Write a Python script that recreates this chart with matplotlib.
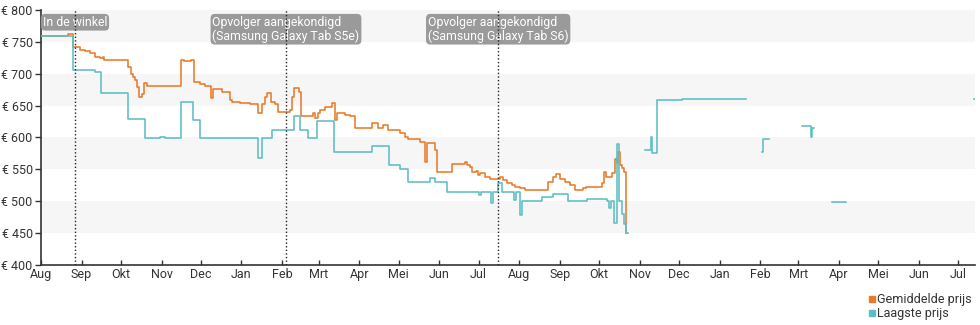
import numpy as np
import matplotlib
matplotlib.use("Agg")
import matplotlib.pyplot as plt
import matplotlib.dates as mdates
from matplotlib.lines import Line2D
from matplotlib.ticker import FuncFormatter, FixedLocator

plt.rcParams['font.family'] = ['Roboto', 'DejaVu Sans']

# Price history of the tablet, days counted from 1 August 2018
START = np.datetime64('2018-08-01')
END_DAY = 713

# Average price (Gemiddelde prijs)
gem_dag = [0, 20.6, 24.4, 29.8, 33.6, 37.4, 41.2, 45.0, 47.3, 48.1, 66.4, 68.7, 70.2, 71.8,
           73.3, 74.8, 77.1, 78.6, 80.9, 106.9, 109.2, 114.5, 116.8, 121.4, 125.2, 129.8,
           131.3, 138.2, 144.3, 145.8, 151.9, 159.5, 165.7, 168.7, 171.0, 172.5, 175.6,
           178.6, 180.9, 190.1, 191.6, 193.1, 197.0, 198.5, 207.6, 209.2, 211.5, 213.0,
           216.8, 222.2, 224.4, 226.0, 232.1, 235.9, 239.7, 252.7, 257.3, 261.1, 264.9,
           274.1, 277.9, 280.2, 289.3, 293.1, 294.7, 300.8, 302.3, 313.8, 323.7, 325.2,
           327.5, 329.0, 332.1, 333.6, 335.1, 338.9, 342.8, 350.4, 352.7, 355.7, 359.6,
           361.9, 365.7, 369.5, 387.0, 390.9, 393.2, 396.2, 400.0, 403.8, 407.7, 413.8,
           416.1, 428.3, 429.8, 431.3, 435.9, 438.2, 439.7, 440.5, 442.0, 443.5, 445.0,
           446.6, 447.4]
gem_prijs = [759, 762, 742, 738, 736, 732, 727, 724, 727, 721, 711, 700, 695, 690,
             679, 664, 668, 685, 680, 722, 720, 722, 687, 684, 681, 662,
             676, 671, 659, 656, 654, 652, 638, 652, 664, 670, 655,
             652, 640, 643, 664, 677, 671, 634, 638, 630, 638, 643,
             648, 654, 627, 638, 636, 633, 615, 623, 615, 620, 612,
             607, 601, 597, 593, 561, 591, 580, 546, 558, 562, 557,
             554, 546, 548, 541, 545, 538, 535, 538, 533, 529, 525,
             522, 521, 518, 530, 538, 542, 535, 530, 525, 518, 521,
             522, 529, 546, 538, 544, 567, 560, 577, 557, 552, 546,
             450, 450]

# Lowest price (Laagste prijs); NaN marks periods without an offer
laag_dag = [0, 24.4, 41.2, 45.8, 66.4, 79.4, 90.8, 94.7, 106.9, 116.0, 121.4, 165.7,
            168.7, 176.3, 193.1, 197.7, 203.8, 210.7, 223.7, 252.7, 265.6, 274.1, 280.2,
            297.0, 300.8, 309.9, 334.4, 335.9, 343.5, 345.1, 348.9, 351.9, 361.1, 362.6,
            365.7, 367.2, 382.5, 390.9, 402.3, 416.8, 432.1, 433.6, 435.1, 437.4, 439.7,
            441.3, 443.5, 445.0, 446.6, 447.4, 448.0,
            461.1, 465.6, 466.4, 470.2, 489.3, 537.4, 538.0,
            550.4, 551.1, 555.0, 555.5,
            580.9, 587.8, 588.5, 589.3, 590.0,
            603.8, 613.7, 614.2,
            712.4, 713.0]
laag_prijs = [759, 706, 702, 670, 629, 599, 601, 599, 656, 628, 599, 568,
              599, 611, 634, 611, 599, 626, 577, 586, 557, 551, 530,
              536, 530, 515, 510, 515, 498, 515, 528, 515, 502, 515,
              478, 500, 507, 512, 500, 504, 500, 489, 500, 466, 590,
              500, 480, 465, 450, 450, np.nan,
              580, 600, 576, 659, 660, 660, np.nan,
              577, 598, 598, np.nan,
              618, 601, 615, 615, np.nan,
              499, 499, np.nan,
              660, 660]

gebeurtenis_datum = ['2018-08-27', '2019-02-04', '2019-07-16']
gebeurtenis_tekst = ['In de winkel',
                     'Opvolger aangekondigd\n(Samsung Galaxy Tab S5e)',
                     'Opvolger aangekondigd\n(Samsung Galaxy Tab S6)']

maanden = ['Jan', 'Feb', 'Mrt', 'Apr', 'Mei', 'Jun', 'Jul', 'Aug', 'Sep', 'Okt', 'Nov', 'Dec']
prijs_ticks = [400, 450, 500, 550, 600, 650, 700, 750, 800]

ORANJE = '#ea7a2b'
BLAUW = '#5dbec5'
TEKST = '#333333'

base = mdates.date2num(START)

fig = plt.figure(figsize=(9.8, 3.25), dpi=100)
ax = fig.add_axes([41 / 980, 60 / 325, 934 / 980, 255 / 325])

# alternating light bands
for lo in [450, 550, 650, 750]:
    ax.axhspan(lo, lo + 50, color='#f6f6f6', lw=0, zorder=0)

ax.plot(base + np.array(gem_dag), gem_prijs, color=ORANJE, lw=1.15,
        drawstyle='steps-post', zorder=3)
ax.plot(base + np.array(laag_dag), np.array(laag_prijs, dtype=float), color=BLAUW, lw=1.15,
        drawstyle='steps-post', zorder=4)

for d, t in zip(gebeurtenis_datum, gebeurtenis_tekst):
    x = mdates.date2num(np.datetime64(d))
    ax.axvline(x, color='#222222', lw=1.0, linestyle=(0, (1, 1.6)), zorder=6)
    ax.text(x, 791, t, ha='center', va='top', multialignment='left', color='white',
            fontsize=8.8, zorder=5, linespacing=1.05,
            bbox=dict(boxstyle='round,pad=0.15,rounding_size=0.35', fc='#9a9a9a', ec='none'))

ax.set_xlim(base, base + END_DAY)
ax.set_ylim(400, 800)

ax.xaxis.set_major_locator(mdates.MonthLocator())
ax.xaxis.set_major_formatter(FuncFormatter(lambda v, pos: maanden[mdates.num2date(v).month - 1]))
ax.yaxis.set_major_locator(FixedLocator(prijs_ticks))
ax.yaxis.set_major_formatter(FuncFormatter(lambda v, pos: f'€ {int(v)}'))

for s in ['top', 'right']:
    ax.spines[s].set_visible(False)
for s in ['left', 'bottom']:
    ax.spines[s].set_color('#333333')
    ax.spines[s].set_linewidth(1.2)

ax.tick_params(axis='y', direction='out', length=4, width=1, colors=TEKST, labelsize=9, pad=2)
ax.tick_params(axis='x', direction='in', length=3.5, width=1, colors=TEKST, labelsize=9, pad=2)

handles = [Line2D([], [], marker='s', ls='none', color=ORANJE, markersize=5),
           Line2D([], [], marker='s', ls='none', color=BLAUW, markersize=5)]
fig.legend(handles, ['Gemiddelde prijs', 'Laagste prijs'], loc='upper right',
           bbox_to_anchor=(978 / 980, 1 - 287 / 325), frameon=False, fontsize=9,
           handletextpad=0.1, handlelength=0.7, borderpad=0, labelspacing=0.05,
           labelcolor=TEKST)

fig.savefig('out.png', dpi=100)
